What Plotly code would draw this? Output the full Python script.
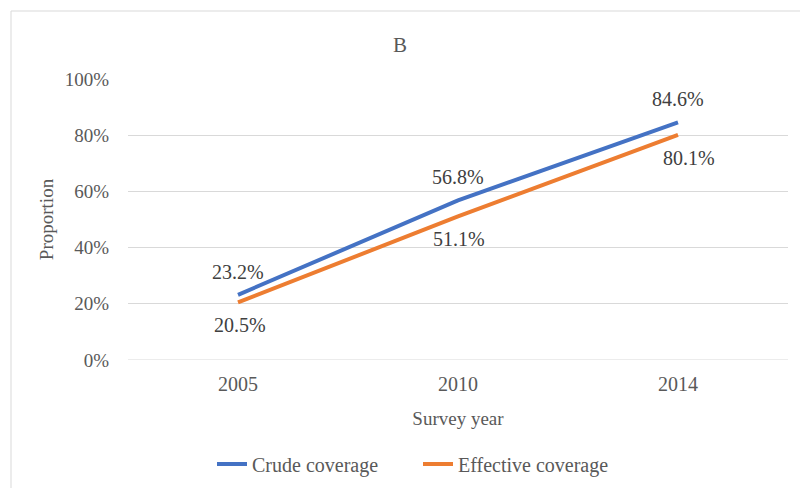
import plotly.graph_objects as go

years = ["2005", "2010", "2014"]
crude = [23.2, 56.8, 84.6]
effective = [20.5, 51.1, 80.1]
y_ticks = [0, 20, 40, 60, 80, 100]
y_tick_labels = ["0%", "20%", "40%", "60%", "80%", "100%"]

font_family = "Liberation Serif"
grey = "#595959"
label_col = "#404040"

# plot area in pixels
L, R, T, B = 128, 12, 79, 128
PW, PH = 800 - L - R, 488 - T - B

fig = go.Figure()
fig.add_trace(go.Scatter(
    x=years, y=crude, mode="lines", name="Crude coverage",
    line=dict(color="#4472C4", width=4),
))
fig.add_trace(go.Scatter(
    x=years, y=effective, mode="lines", name="Effective coverage",
    line=dict(color="#ED7D31", width=4),
))

eff_xshift = [2, 1, 11]
annotations = []
for i, yv in enumerate(crude):
    annotations.append(dict(x=i, y=yv, xref="x", yref="y", text=f"{yv:.1f}%", showarrow=False,
                            yshift=23, font=dict(family=font_family, size=20, color=label_col)))
for i, yv in enumerate(effective):
    annotations.append(dict(x=i, y=yv, xref="x", yref="y", text=f"{yv:.1f}%", showarrow=False,
                            yshift=-23, xshift=eff_xshift[i],
                            font=dict(family=font_family, size=20, color=label_col)))

fig.update_layout(
    width=800, height=488,
    margin=dict(l=L, r=R, t=T, b=B, autoexpand=False),
    paper_bgcolor="white", plot_bgcolor="white",
    font=dict(family=font_family, color=grey, size=19),
    title=dict(text="B", x=0.5, xanchor="center", y=1 - 45 / 488, yanchor="middle",
               font=dict(family=font_family, size=21, color=grey)),
    showlegend=True,
    legend=dict(orientation="h", x=(212 - L) / PW, xanchor="left", y=-(464 - 360) / PH, yanchor="middle",
                font=dict(family=font_family, size=20, color=grey),
                entrywidth=161, tracegroupgap=0),
    xaxis=dict(type="category", range=[-0.5, 2.5],
               showgrid=False, showline=False, zeroline=False, ticks="",
               ticklabelstandoff=10,
               tickfont=dict(family=font_family, size=20, color=grey),
               title=dict(text="Survey year", font=dict(family=font_family, size=19, color=grey), standoff=17)),
    yaxis=dict(range=[0, 100], tickvals=y_ticks, ticktext=y_tick_labels,
               showgrid=True, gridcolor="#D9D9D9", gridwidth=1, zeroline=False, showline=False,
               ticks="", ticklabelstandoff=18,
               tickfont=dict(family=font_family, size=19, color=grey),
               title=dict(text="Proportion", font=dict(family=font_family, size=19, color=grey), standoff=6)),
    annotations=annotations,
    shapes=[dict(type="rect", xref="paper", yref="paper",
                 x0=(11 - L) / PW, x1=1 + 40 / PW, y0=-0.6, y1=1 + (T - 11) / PH,
                 line=dict(color="#D9D9D9", width=1), fillcolor="rgba(0,0,0,0)", layer="below"),
            dict(type="line", xref="paper", yref="y", x0=0, x1=1, y0=0, y1=0,
                 line=dict(color="#D9D9D9", width=1), layer="below")],
)

fig.write_html("out.html", config={"displayModeBar": False},
               post_script="document.body.style.margin='0';")
